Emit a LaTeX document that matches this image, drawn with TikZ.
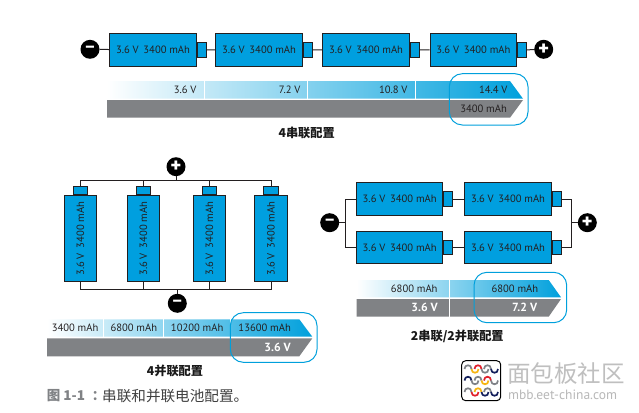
\documentclass[tikz,border=0pt]{standalone}
\usepackage{fontspec}
\setmainfont{PT Sans}
\newfontfamily\cjk{Noto Sans CJK SC}
\newfontfamily\symb{Fira Sans}
\definecolor{cellblue}{HTML}{009FDF}
\definecolor{barblue}{HTML}{00A0DC}
\definecolor{bargray}{HTML}{808285}
\definecolor{wire}{HTML}{231F20}
\definecolor{logored}{HTML}{E0202C}
\definecolor{logonavy}{HTML}{14205C}
\definecolor{logoyellow}{HTML}{F7B512}
\definecolor{logogray}{HTML}{7F8287}
\tikzset{
  cellh/.style={draw=wire,line width=1pt,fill=cellblue,inner sep=0pt,minimum width=86.4pt,minimum height=32.4pt,text=wire,font=\fontsize{10.6}{11}\selectfont},
  cellv/.style={cellh,rotate=90,minimum width=86pt},
  caph/.style={draw=wire,line width=1pt,fill=cellblue,inner sep=0pt,minimum width=9pt,minimum height=14.5pt},
  capv/.style={draw=wire,line width=1pt,fill=cellblue,inner sep=0pt,minimum width=14.5pt,minimum height=8.7pt},
  wireline/.style={draw=wire,line width=1pt},
  pole/.style={circle,fill=black,inner sep=0pt,minimum size=19pt,text=white,font=\symb\bfseries\fontsize{21}{21}\selectfont},
  minuspole/.style={pole,font=\symb\bfseries\fontsize{17}{17}\selectfont},
  barlabel/.style={inner sep=0pt,anchor=east,text=wire,font=\fontsize{10.6}{11}\selectfont},
  barvalue/.style={inner sep=0pt,anchor=east,text=white,font=\bfseries\fontsize{11.8}{12}\selectfont},
  highlight/.style={draw=barblue,line width=1pt,rounded corners=13pt},
  sepline/.style={draw=white,line width=0.9pt},
  heading/.style={inner sep=0pt,text=black!90,font=\bfseries\cjk\fontsize{12.2}{13}\selectfont},
  logostroke/.style={line width=1.7pt},
}
% upper band with a horizontal fade and the grey band below it
\newcommand{\capacitybar}[7]{% left, tip start, tip, top, mid1, mid2, bottom
  \path[left color=white,right color=barblue] (#1,#4) -- (#2,#4) -- (#3,#5) -- (#1,#5) -- cycle;
  \fill[bargray] (#1,#6) -- (#3,#6) -- (#2,#7) -- (#1,#7) -- cycle;
}
% one S-shaped link of the mark: an arch and a cup side by side
\newcommand{\logolink}[4]{% centre x, centre y, arch colour, cup colour
  \draw[logostroke,#3] (#1-7,#2) .. controls (#1-7,#2-5) and (#1,#2-5) .. (#1,#2);
  \draw[logostroke,#4] (#1,#2) .. controls (#1,#2+5) and (#1+7,#2+5) .. (#1+7,#2);
}
\begin{document}
\begin{tikzpicture}[x=1pt,y=-1pt]
\useasboundingbox (0,0) rectangle (639,412);
\fill[white] (0,0) rectangle (639,412);

% --- four cells in series ---
\node[cellh,anchor=north west] (sa) at (109.3,33.3) {3.6 V\hspace{0.45em}3400 mAh};
\node[caph,anchor=west] (sacap) at (sa.east) {};
\node[cellh,anchor=north west] (sb) at (215.3,33.3) {3.6 V\hspace{0.45em}3400 mAh};
\node[caph,anchor=west] (sbcap) at (sb.east) {};
\node[cellh,anchor=north west] (sc) at (322.3,33.3) {3.6 V\hspace{0.45em}3400 mAh};
\node[caph,anchor=west] (sccap) at (sc.east) {};
\node[cellh,anchor=north west] (sd) at (429.7,33.3) {3.6 V\hspace{0.45em}3400 mAh};
\node[caph,anchor=west] (sdcap) at (sd.east) {};
\node[minuspole] (sminus) at (90,49.3) {–};
\node[pole] (splus) at (543.7,49.3) {+};
\draw[wireline] (sminus) -- (sa) (sacap) -- (sb) (sbcap) -- (sc) (sccap) -- (sd) (sdcap) -- (splus);

\capacitybar{107}{510}{523}{81}{98.7}{100}{117.7}
\foreach \sx in {204,307.7,415.7} \draw[sepline] (\sx,81) -- (\sx,98.7);
\node[barlabel] (sv1) at (196.7,89.5) {3.6 V};
\node[barlabel] (sv2) at (300.7,89.5) {7.2 V};
\node[barlabel] (sv3) at (407.7,89.5) {10.8 V};
\node[barlabel] (sv4) at (507.7,89.5) {14.4 V};
\node[barlabel] (sah) at (507,109) {3400 mAh};
\draw[highlight] (449.3,73.7) rectangle (528,125);
\node[heading] (stitle) at (306.7,132.7) {4串联配置};

% --- four cells in parallel ---
\node[cellv] (pa) at (80.5,238.7) {3.6 V\hspace{0.45em}3400 mAh};
\node[cellv] (pb) at (143.3,238.7) {3.6 V\hspace{0.45em}3400 mAh};
\node[cellv] (pc) at (209.5,238.7) {3.6 V\hspace{0.45em}3400 mAh};
\node[cellv] (pd) at (271,238.7) {3.6 V\hspace{0.45em}3400 mAh};
\node[capv,anchor=south] (pacap) at (pa.east) {};
\node[capv,anchor=south] (pbcap) at (pb.east) {};
\node[capv,anchor=south] (pccap) at (pc.east) {};
\node[capv,anchor=south] (pdcap) at (pd.east) {};
\node[pole] (pplus) at (176,166.7) {+};
\node[minuspole] (pminus) at (177.3,303.3) {–};
\coordinate (ptop) at (176,180.7);
\coordinate (pbot) at (177.3,289);
\draw[wireline] (pplus) -- (ptop);
\draw[wireline] (pminus) -- (pbot);
\draw[wireline] (pacap.north) |- (ptop) (pbcap.north) |- (ptop) (pccap.north) |- (ptop) (pdcap.north) |- (ptop);
\draw[wireline] (pa.west) |- (pbot) (pb.west) |- (pbot) (pc.west) |- (pbot) (pd.west) |- (pbot);

\capacitybar{47}{299.3}{312.3}{319.3}{336.7}{338.3}{356.3}
\foreach \sx in {103.3,163.3,230.7} \draw[sepline] (\sx,319.3) -- (\sx,336.7);
\node[barlabel] (pah1) at (98.5,327.7) {3400 mAh};
\node[barlabel] (pah2) at (157.3,327.7) {6800 mAh};
\node[barlabel] (pah3) at (223.5,327.7) {10200 mAh};
\node[barlabel] (pah4) at (291,327.7) {13600 mAh};
\node[barvalue] (pv) at (291,347) {3.6 V};
\draw[highlight] (230.3,312.7) rectangle (317,362.3);
\node[heading] (ptitle) at (175,371.3) {4并联配置};

% --- two series strings in parallel ---
\node[cellh,anchor=north west] (ma) at (356,182.3) {3.6 V\hspace{0.45em}3400 mAh};
\node[caph,anchor=west] (macap) at (ma.east) {};
\node[cellh,anchor=north west] (mb) at (464.3,182.3) {3.6 V\hspace{0.45em}3400 mAh};
\node[caph,anchor=west] (mbcap) at (mb.east) {};
\node[cellh,anchor=north west] (mc) at (356,231) {3.6 V\hspace{0.45em}3400 mAh};
\node[caph,anchor=west] (mccap) at (mc.east) {};
\node[cellh,anchor=north west] (md) at (464.3,231) {3.6 V\hspace{0.45em}3400 mAh};
\node[caph,anchor=west] (mdcap) at (md.east) {};
\node[minuspole] (mminus) at (329.7,222.7) {–};
\node[pole] (mplus) at (587.3,222.7) {+};
\coordinate (mleft) at (345.3,222.7);
\coordinate (mright) at (571.3,222.7);
\draw[wireline] (macap) -- (mb) (mccap) -- (md);
\draw[wireline] (mminus) -- (mleft) (mplus) -- (mright);
\draw[wireline] (mleft) |- (ma.west) (mleft) |- (mc.west);
\draw[wireline] (mright) |- (mbcap.east) (mright) |- (mdcap.east);

\capacitybar{356.7}{548.7}{561}{280}{297.3}{299}{316.7}
\draw[sepline] (449.3,280) -- (449.3,316.7);
\node[barlabel] (mah1) at (437.7,288.3) {6800 mAh};
\node[barlabel] (mah2) at (538.3,288.3) {6800 mAh};
\node[barvalue] (mv1) at (438,307.3) {3.6 V};
\node[barvalue] (mv2) at (537.3,307.3) {7.2 V};
\draw[highlight] (474,272.3) rectangle (566.7,322.7);
\node[heading] (mtitle) at (457.3,336.3) {2串联/2并联配置};

% --- figure caption ---
\node[inner sep=0pt,anchor=west,text=bargray,font=\bfseries\cjk\fontsize{13.5}{14}\selectfont] (fignum) at (46.7,395.5) {图 1-1\hspace{0.5em}：};
\node[inner sep=0pt,anchor=west,text=black!75,font=\cjk\fontsize{14.6}{15}\selectfont] (figtext) at (102,395.5) {串联和并联电池配置。};

% --- community mark ---
\draw[draw=black,line width=1pt,fill=white,rounded corners=4pt] (461.7,360.7) rectangle (500.7,400.7);
\logolink{471.5}{369}{logogray}{logoyellow}
\logolink{481.5}{369}{logored}{logogray}
\logolink{491}{369}{logogray}{logonavy}
\logolink{471.5}{380.5}{logonavy}{logogray}
\logolink{481.5}{380.5}{logogray}{logoyellow}
\logolink{491}{380.5}{logored}{logogray}
\logolink{471.5}{392}{logogray}{logored}
\logolink{481.5}{392}{logoyellow}{logonavy}
\logolink{491}{392}{logogray}{logonavy}
\node[inner sep=0pt,anchor=west,text=black!25,font=\cjk\fontsize{23.5}{24}\selectfont] (wmark) at (507,373.3) {面包板社区};
\node[inner sep=0pt,anchor=west,text=black!28,font=\fontsize{13.5}{14}\selectfont] (wurl) at (508,395) {mbb.eet-china.com};
\end{tikzpicture}
\end{document}
